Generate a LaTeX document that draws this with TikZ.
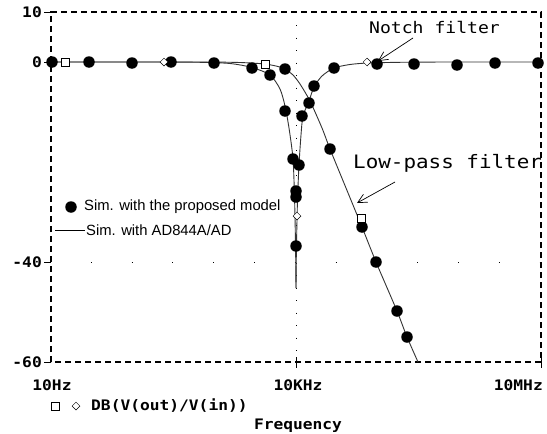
\documentclass[tikz,border=0pt]{standalone}
\usepackage{fontspec}
\setmainfont{Liberation Sans}
\newfontfamily\tickfont{DejaVu Sans Mono}[FakeStretch=1.12]
\newfontfamily\annfont{DejaVu Sans Mono}[FakeStretch=1.13]
\usetikzlibrary{arrows.meta,shapes.geometric}
\begin{document}
\begin{tikzpicture}[x=1pt,y=-1pt,
  frame/.style={draw=black, line width=1.1pt, dash pattern=on 6pt off 4pt},
  tickline/.style={draw=black, line width=1pt},
  curve/.style={draw=black!80, line width=0.9pt},
  dotm/.style={circle, fill=black, inner sep=0pt, minimum size=11.5pt},
  sqm/.style={rectangle, draw=black, fill=white, inner sep=0pt, minimum size=8pt, line width=0.6pt},
  diam/.style={diamond, draw=black, fill=white, inner sep=0pt, minimum width=8pt, minimum height=8pt, line width=0.5pt},
  ticklab/.style={font=\tickfont\bfseries\fontsize{14.5}{15}\selectfont, inner sep=0pt},
  annlab/.style={font=\annfont\fontsize{16}{17}\selectfont, inner sep=0pt},
  annlabbig/.style={font=\annfont\fontsize{18.5}{19}\selectfont, inner sep=0pt},
  leglab/.style={font=\fontsize{14.8}{16}\selectfont, inner sep=0pt},
  annarrow/.style={draw=black, line width=0.7pt, -{Straight Barb[length=9pt,width=9pt]}},
  griddot/.style={draw=black, line width=1pt}
]
\useasboundingbox (0,0) rectangle (547,434);

% grid dots
\draw[griddot, dash pattern=on 1pt off 11.5pt] (296,25) -- (296,362);
\draw[griddot, dash pattern=on 1pt off 39.8pt] (90.8,262) -- (541,262);

% frame
\draw[frame] (51,362) -- (51,12) -- (541,12) -- (541,362) -- cycle;
\draw[tickline] (44,12) -- (51,12);
\draw[tickline] (44,62) -- (51,62);
\draw[tickline] (44,262) -- (51,262);
\draw[tickline] (44,362) -- (51,362);
\draw[tickline] (296,357) -- (296,368);
\draw[tickline] (541,357) -- (541,368);

% y labels
\node[ticklab, anchor=east] (y10) at (42,12) {10};
\node[ticklab, anchor=east] (y0) at (42,62) {0};
\node[ticklab, anchor=east] (ym40) at (42,262) {-40};
\node[ticklab, anchor=east] (ym60) at (42,362) {-60};
% x labels
\node[ticklab] (x1) at (52,385) {10Hz};
\node[ticklab] (x2) at (298,385) {10KHz};
\node[ticklab, anchor=east] (x3) at (543,385) {10MHz};

% notch curve
\draw[curve] plot[smooth, tension=0.45] coordinates {(51,62) (150,62) (200,62.3) (230,63.5) (252,67.5) (270,75) (280,89) (285,106) (289,128) (293,159) (294.6,200) (295.6,250) (296,288)};
\draw[curve] plot[smooth, tension=0.45] coordinates {(296,288) (296.4,250) (297.5,200) (299,165) (301,135) (303,116) (309,101) (314,87) (322,76) (334,68) (350,64.5) (368,63) (400,62.3) (450,62) (541,62)};
% low-pass curve
\draw[curve] plot[smooth, tension=0.4] coordinates {(51,62) (200,62) (240,62.5) (265,64) (278,66.5) (285,69) (293,75) (300,84) (310,101) (322,128) (330,149) (346,188) (362,227) (376,262) (397,311) (407,337) (418,362)};

% markers: filled circles
\foreach \p [count=\i] in {(52,62),(89,62),(132,63),(171,62),(214,63),(252,68),(270,75),(285,69),(285,111),(302,116),(309,103),(314,86),(334,68),(377,64),(414,64),(457,65),(495,63),(538,63),(293,159),(299,165),(296,191),(296,197),(296,246),(330,149),(362,227),(376,262),(397,311),(407,337)}
  \node[dotm] (c\i) at \p {};
% open squares
\node[sqm] (s1) at (65,62) {};
\node[sqm] (s2) at (265,64) {};
\node[sqm] (s3) at (361,218) {};
% open diamonds
\node[diam] (d1) at (164,62) {};
\node[diam] (d2) at (297,216) {};
\node[diam] (d3) at (367,62) {};

% annotations
\node[annlab, anchor=west] (notch) at (369,27) {Notch filter};
\coordinate (notchtail) at (413,38);
\coordinate (notchtip) at (378,61);
\draw[annarrow] (notchtail) -- (notchtip);
\node[annlabbig, anchor=west] (lowp) at (353,163) {Low-pass filter};
\coordinate (lowtail) at (395,182);
\coordinate (lowtip) at (357,203);
\draw[annarrow] (lowtail) -- (lowtip);

% legend in plot
\node[dotm] (legdot) at (71,207) {};
\node[leglab, anchor=west] (leg1) at (84,207) {Sim. with the proposed model};
\coordinate (legl) at (55,230);
\coordinate (legr) at (85,230);
\draw[draw=black, line width=1pt] (legl) -- (legr);
\node[leglab, anchor=west] (leg2) at (86,230) {Sim. with AD844A/AD};

% bottom legend
\node[sqm] (bs) at (55,406) {};
\node[diam] (bd) at (76,406) {};
\node[ticklab, anchor=west] (trace) at (91,406) {DB(V(out)/V(in))};
\node[ticklab] (freq) at (298,426) {Frequency};
\end{tikzpicture}
\end{document}
